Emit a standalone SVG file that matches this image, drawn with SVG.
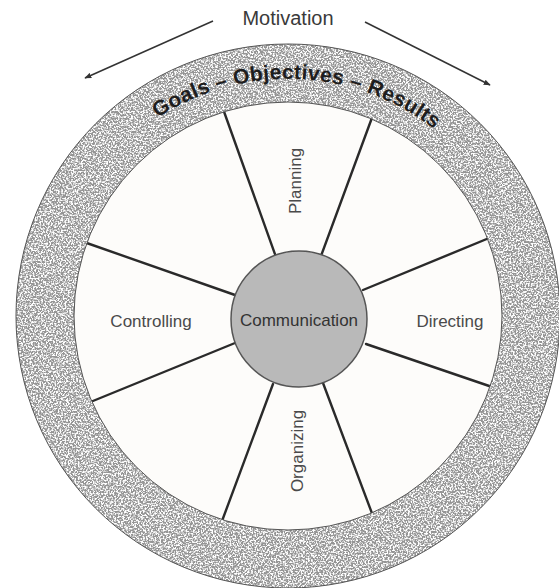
<svg xmlns="http://www.w3.org/2000/svg" width="559" height="588" viewBox="0 0 559 588">
<defs>
<style>
.lbl{font-family:"Liberation Sans",Arial,sans-serif;font-size:17px;fill:#4a4a4a;text-anchor:middle}
.spoke{stroke:#2a2a2a;stroke-width:2.4;fill:none;stroke-linecap:round}
.arr{stroke:#333;stroke-width:1.5;fill:none}
</style>
<marker id="ah" viewBox="0 0 10 10" refX="9" refY="5" markerWidth="7" markerHeight="7" orient="auto-start-reverse" markerUnits="userSpaceOnUse">
<path d="M0,1 L10,5 L0,9 z" fill="#333"/>
</marker>
<filter id="speckle" x="0" y="0" width="100%" height="100%">
<feTurbulence type="fractalNoise" baseFrequency="0.6" numOctaves="2" seed="7" result="n"/>
<feColorMatrix in="n" type="matrix" values="0 0 0 0 1  0 0 0 0 1  0 0 0 0 1  5 0 0 0 -2.2" result="w"/>
<feComposite in="w" in2="SourceGraphic" operator="in" result="ws"/>
<feMerge><feMergeNode in="SourceGraphic"/><feMergeNode in="ws"/></feMerge>
</filter>
<path id="arcText" d="M 50,317 A 237 237 0 0 1 526,317"/>
</defs>
<rect width="559" height="588" fill="#ffffff"/>

<g id="wheel-base">
<circle cx="288" cy="316" r="214" fill="#fdfcfa"/>
</g>

<g id="connectors">
<line class="spoke" x1="222" y1="106" x2="276" y2="257"/>
<line class="spoke" x1="373" y1="115" x2="321" y2="256"/>
<line class="spoke" x1="494" y1="236" x2="363" y2="290"/>
<line class="spoke" x1="498" y1="389" x2="366" y2="344"/>
<line class="spoke" x1="373" y1="516" x2="323" y2="383"/>
<line class="spoke" x1="222" y1="521" x2="273" y2="384"/>
<line class="spoke" x1="88" y1="403" x2="235" y2="343"/>
<line class="spoke" x1="81" y1="241" x2="235" y2="295"/>
<line class="arr" x1="213" y1="21" x2="85" y2="78" marker-end="url(#ah)"/>
<line class="arr" x1="365" y1="22" x2="490" y2="85" marker-end="url(#ah)"/>
</g>

<g id="ring">
<path d="M 288,44 A 272 272 0 1 1 287.9,44 Z M 288,102 A 214 214 0 1 0 288.1,102 Z" fill="#959595" fill-rule="evenodd" filter="url(#speckle)"/>
<circle cx="288" cy="316" r="272" fill="none" stroke="#555" stroke-width="1"/>
<circle cx="288" cy="316" r="214" fill="none" stroke="#555" stroke-width="1"/>
<text font-family="'Liberation Sans',Arial,sans-serif" font-weight="bold" font-size="21" letter-spacing="0.3" fill="#1e1e1e" text-anchor="middle"><textPath href="#arcText" startOffset="51.3%">Goals – Objectives – Results</textPath></text>
</g>

<g id="motivation">
<text class="lbl" x="288" y="25" style="font-size:20px;fill:#3a3a3a">Motivation</text>
</g>

<g id="communication">
<circle cx="299" cy="319" r="68" fill="#b9b9b9" stroke="#555" stroke-width="1.5"/>
<text class="lbl" x="299" y="326" style="fill:#333">Communication</text>
</g>

<g id="planning">
<text class="lbl" transform="translate(301,181) rotate(-90)" x="0" y="0">Planning</text>
</g>
<g id="directing">
<text class="lbl" x="450" y="327">Directing</text>
</g>
<g id="organizing">
<text class="lbl" transform="translate(303,451) rotate(-90)" x="0" y="0">Organizing</text>
</g>
<g id="controlling">
<text class="lbl" x="151" y="327">Controlling</text>
</g>
</svg>
